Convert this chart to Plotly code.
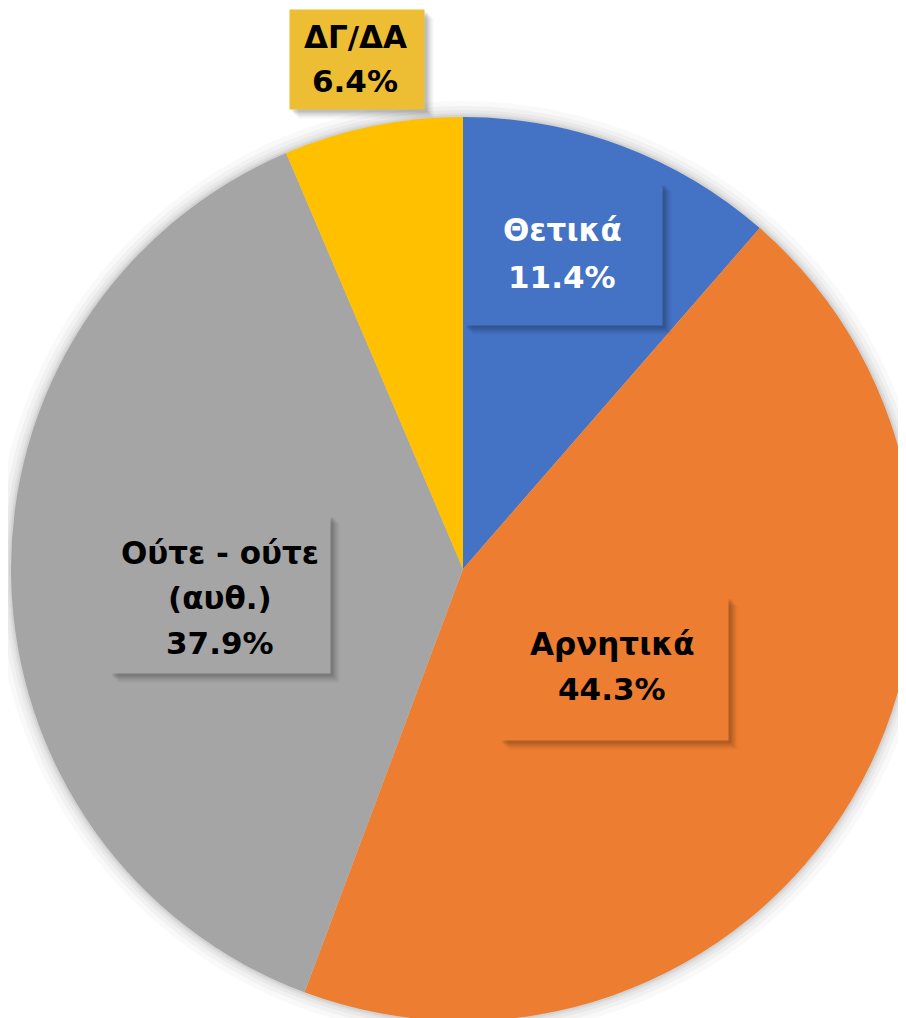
import plotly.graph_objects as go

labels = ["Θετικά", "Αρνητικά", "Ούτε - ούτε (αυθ.)", "ΔΓ/ΔΑ"]
label_lines = [["Θετικά"], ["Αρνητικά"], ["Ούτε - ούτε", "(αυθ.)"], ["ΔΓ/ΔΑ"]]
values = [11.4, 44.3, 37.9, 6.4]
colors = ["#4472C4", "#ED7D31", "#A5A5A5", "#FFC000"]
box_colors = ["#4472C4", "#ED7D31", "#A5A5A5", "#EDBD34"]
text_colors = ["white", "black", "black", "black"]

# figure is placed by the page with an 8px body margin
OFF = 8
W, H = 920, 1030


def px(rx, ry):
    return (rx - OFF) / W, 1 - (ry - OFF) / H


# pie centre / radius in page pixels
PCX, PCY, R = 463, 569, 452

# label boxes in page pixels: (x0, y0, x1, y1), text line centres
boxes = [(464, 183, 662, 325), (500, 597, 728, 740), (110, 515, 330, 673), (290, 10, 424, 109)]
line_y = [[230, 277], [644, 689], [553, 598, 643], [37, 81]]
text_cx = [562, 612, 220, 355]
FONT = "Century Gothic, DejaVu Sans"
FS = 31

fig = go.Figure(go.Pie(
    labels=labels, values=values, sort=False, direction="clockwise",
    rotation=0, marker=dict(colors=colors, line=dict(width=0)),
    textinfo="none", hoverinfo="label+percent", showlegend=False,
    domain=dict(x=[(PCX - OFF - R) / W, (PCX - OFF + R) / W],
                y=[1 - (PCY - OFF + R) / H, 1 - (PCY - OFF - R) / H]),
))

# soft shadow around the pie
for k, a in [(16, 0.025), (11, 0.03), (7, 0.035), (4, 0.04), (2, 0.05)]:
    x0, y0 = px(PCX - R - k, PCY - R - k)
    x1, y1 = px(PCX + R + k, PCY + R + k)
    fig.add_shape(type="circle", xref="paper", yref="paper", x0=x0, y0=y1, x1=x1, y1=y0,
                  fillcolor=f"rgba(0,0,0,{a})", line=dict(width=0), layer="below")

for lines, val, bc, tc, (bx0, by0, bx1, by1), ly, tcx in zip(
        label_lines, values, box_colors, text_colors, boxes, line_y, text_cx):
    bw, bh = bx1 - bx0, by1 - by0
    cx, cy = px((bx0 + bx1) / 2, (by0 + by1) / 2)
    # blurred drop shadow
    for off, a in [(9, 0.04), (7, 0.06), (5, 0.08), (3, 0.1)]:
        fig.add_annotation(x=cx, y=cy, xref="paper", yref="paper", text=" ",
                           showarrow=False, xanchor="center", yanchor="middle",
                           width=bw, height=bh, borderpad=0,
                           bgcolor=f"rgba(0,0,0,{a})", xshift=off, yshift=-off,
                           font=dict(size=FS, color="rgba(0,0,0,0)", family=FONT))
    fig.add_annotation(x=cx, y=cy, xref="paper", yref="paper", text=" ",
                       showarrow=False, xanchor="center", yanchor="middle",
                       width=bw, height=bh, borderpad=0, bgcolor=bc,
                       font=dict(size=FS, color=tc, family=FONT))
    texts = lines + [f"{val:.1f}%"]
    for t, y in zip(texts, ly):
        tx, ty = px(tcx, y)
        fig.add_annotation(x=tx, y=ty, xref="paper", yref="paper", text=f"<b>{t}</b>",
                           showarrow=False, xanchor="center", yanchor="middle",
                           font=dict(size=FS, color=tc, family=FONT))

fig.update_layout(width=W, height=H, margin=dict(l=0, r=0, t=0, b=0),
                  paper_bgcolor="white", plot_bgcolor="white")
fig.write_html("out.html")
